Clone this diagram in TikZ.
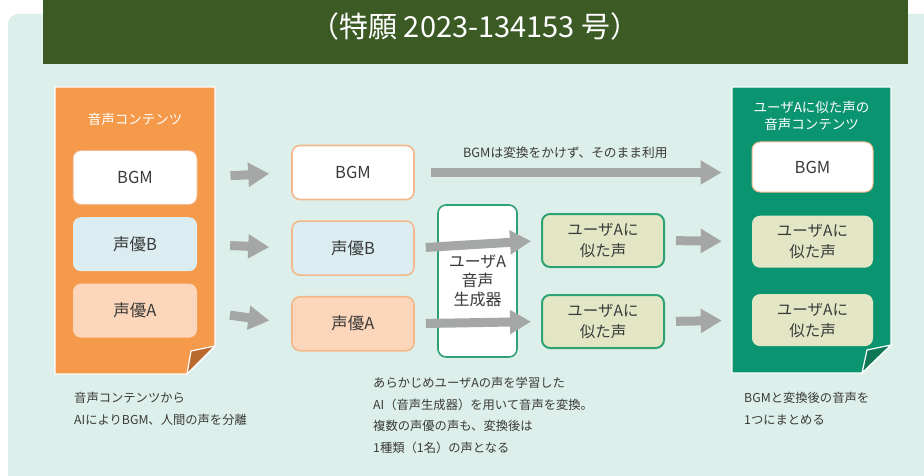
\documentclass[tikz,border=0pt]{standalone}
\usepackage{fontspec}
\setmainfont{Noto Sans CJK JP}
\usepackage{tikz}
\usetikzlibrary{arrows.meta}
\usetikzlibrary{positioning}
\definecolor{mint}{HTML}{DDEFEA}
\definecolor{banner}{HTML}{3B5A24}
\definecolor{orangep}{HTML}{F5994A}
\definecolor{foldor}{HTML}{B86A2E}
\definecolor{lblue}{HTML}{DCEDF2}
\definecolor{peach}{HTML}{FCD6BA}
\definecolor{obord}{HTML}{F2B88C}
\definecolor{gborder}{HTML}{2FA273}
\definecolor{khaki}{HTML}{E3E6C5}
\definecolor{gpanel}{HTML}{0A9570}
\definecolor{foldgr}{HTML}{0E7655}
\definecolor{arrowgray}{HTML}{A5A6A6}
\definecolor{txt}{HTML}{3A3A3A}

\begin{document}
\begin{tikzpicture}[x=1pt,y=-1pt,
  box/.style={rectangle,rounded corners=8pt,minimum width=122pt,minimum height=54pt,
    inner sep=0pt,align=center,text=txt,font=\fontsize{16.5}{20}\selectfont},
  bgm box/.style={box,fill=white,draw=obord,line width=1pt},
  vb box/.style={box,fill=lblue},
  va box/.style={box,fill=peach},
  mid box/.style={box,draw=obord,line width=1.6pt},
  sim box/.style={box,fill=khaki,font=\fontsize{15.5}{21}\selectfont},
  gen box/.style={box,fill=white,draw=gborder,line width=1.6pt,minimum width=79pt,
    minimum height=152pt,font=\fontsize{16}{19}\selectfont},
  head/.style={text=white,align=center,font=\fontsize{13.5}{17}\selectfont},
  note/.style={anchor=north west,inner sep=0pt,align=left,text=txt,
    font=\fontsize{12.3}{21.5}\selectfont},
  big arrow/.style={arrowgray,line width=9pt,-{Triangle[length=21pt,width=23pt]}}]

  \useasboundingbox (0,0) rectangle (924,476);
  \fill[mint,rounded corners=10pt] (8,14) rectangle (940,490);
  \fill[banner] (43,0) rectangle (908,64);
  \node[text=white,font=\fontsize{29}{32}\selectfont] (title) at (475,26) {（特願 2023-134153 号）};

  % left panel
  \filldraw[fill=orangep,draw=white,line width=1.2pt]
    (55,87) -- (215,87) -- (215,346) -- (187,374) -- (55,374) -- cycle;
  \filldraw[fill=foldor,draw=white,line width=1.2pt] (215,346) -- (187,374) -- (191,351) -- cycle;
  \node[head] (lhead) at (135,119) {音声コンテンツ};
  \node[bgm box,minimum width=124pt] (lbgm) at (135,177.5) {BGM};
  \node[vb box,minimum width=124pt] (lvb) [below=12pt of lbgm] {声優B};
  \node[va box,minimum width=124pt] (lva) [below=12pt of lvb] {声優A};

  % right panel
  \filldraw[fill=gpanel,draw=white,line width=1.2pt]
    (732,87) -- (891,87) -- (891,345) -- (862,373) -- (732,373) -- cycle;
  \filldraw[fill=foldgr,draw=white,line width=1.2pt] (891,345) -- (862,373) -- (867,350) -- cycle;
  \node[head] (rhead) at (811.5,116) {ユーザAに似た声の\\音声コンテンツ};
  \node[bgm box,minimum width=121pt,minimum height=50pt] (rbgm) at (812.5,167) {BGM};
  \node[sim box,minimum width=121pt,minimum height=52pt] (rv1) [below=23pt of rbgm] {ユーザAに\\似た声};
  \node[sim box,minimum width=121pt,minimum height=52pt] (rv2) [below=26pt of rv1] {ユーザAに\\似た声};

  % middle
  \node[mid box,fill=white] (mbgm) at (353,172.5) {BGM};
  \node[mid box,fill=lblue] (mvb) [below=20pt of mbgm] {声優B};
  \node[mid box,fill=peach] (mva) [below=20pt of mvb] {声優A};
  \node[gen box] (gen) at (477.5,281) {ユーザA\\音声\\生成器};
  \node[sim box,draw=gborder,line width=2pt,minimum height=53pt] (sim1) at (603,240.5) {ユーザAに\\似た声};
  \node[sim box,draw=gborder,line width=2pt,minimum height=53pt] (sim2) [below=26pt of sim1] {ユーザAに\\似た声};

  \draw[big arrow,shorten <=33pt,shorten >=22pt] (lbgm.east) -- (mbgm.west);
  \draw[big arrow,shorten <=33pt,shorten >=22pt] (lvb.east) -- (mvb.west);
  \draw[big arrow,shorten <=33pt,shorten >=22pt] (lva.east) -- (mva.west);
  \draw[big arrow,shorten <=16pt,shorten >=30pt] (mbgm.east) -- (mbgm.east -| rbgm.west)
    node[pos=0.447,above=6pt,text=txt,font=\fontsize{12.7}{15}\selectfont] (keep) {BGMは変換をかけず、そのまま利用};
  \draw[big arrow,shorten <=11pt,shorten >=10pt] (mvb.east) -- (sim1.west);
  \draw[big arrow,shorten <=11pt,shorten >=10pt] (mva.east) -- (sim2.west);
  \draw[big arrow,shorten <=11pt,shorten >=30pt] (sim1.east) -- (rv1.west);
  \draw[big arrow,shorten <=11pt,shorten >=30pt] (sim2.east) -- (rv2.west);

  % notes
  \node[note] (lnote) at (74,392) {音声コンテンツから\\AIによりBGM、人間の声を分離};
  \node[note] (mnote) at (373,377) {あらかじめユーザAの声を学習した\\AI（音声生成器）を用いて音声を変換。\\複数の声優の声も、変換後は\\1種類（1名）の声となる};
  \node[note] (rnote) at (744,392) {BGMと変換後の音声を\\1つにまとめる};
\end{tikzpicture}
\end{document}
